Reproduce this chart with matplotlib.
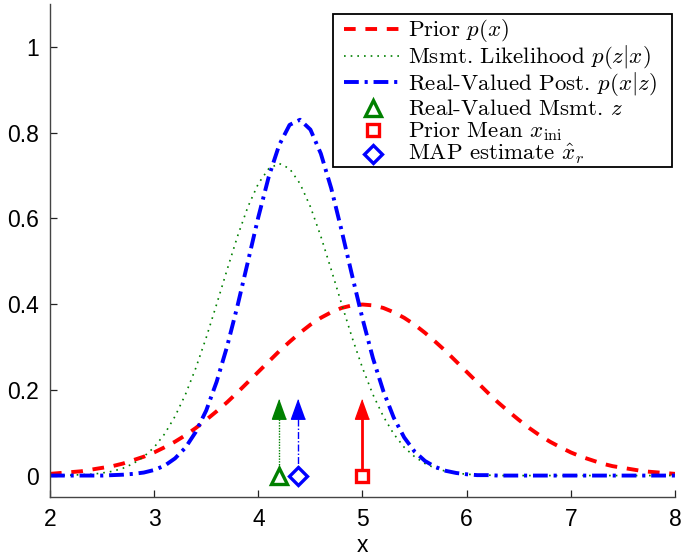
import numpy as np
import matplotlib
matplotlib.use("Agg")
import matplotlib.pyplot as plt
from matplotlib.lines import Line2D
from matplotlib.patches import Rectangle

# ---- data ----
x_grid = [round(2.0 + 0.1 * i, 1) for i in range(61)]

prior_vals = [0.004, 0.006, 0.008, 0.010, 0.014, 0.018, 0.022, 0.028, 0.036, 0.044,
              0.054, 0.066, 0.079, 0.094, 0.111, 0.130, 0.150, 0.171, 0.194, 0.218,
              0.242, 0.266, 0.290, 0.312, 0.333, 0.352, 0.368, 0.381, 0.391, 0.397,
              0.399,
              0.397, 0.391, 0.381, 0.368, 0.352, 0.333, 0.312, 0.290, 0.266, 0.242,
              0.218, 0.194, 0.171, 0.150, 0.130, 0.111, 0.094, 0.079, 0.066, 0.054,
              0.044, 0.036, 0.028, 0.022, 0.018, 0.014, 0.010, 0.008, 0.006, 0.004]

likelihood_vals = [0.000, 0.000, 0.001, 0.002, 0.003, 0.006, 0.010, 0.017, 0.028, 0.044,
                   0.066, 0.097, 0.138, 0.189, 0.251, 0.322, 0.400, 0.480, 0.558, 0.627,
                   0.681, 0.716, 0.728, 0.716, 0.681, 0.627, 0.558, 0.480, 0.400, 0.322,
                   0.251, 0.189, 0.138, 0.097, 0.066, 0.044, 0.028, 0.017, 0.010, 0.006,
                   0.003, 0.002, 0.001, 0.000, 0.000, 0.000, 0.000, 0.000, 0.000, 0.000,
                   0.000, 0.000, 0.000, 0.000, 0.000, 0.000, 0.000, 0.000, 0.000, 0.000,
                   0.000]

posterior_vals = [0.000, 0.000, 0.000, 0.000, 0.000, 0.000, 0.001, 0.002, 0.004, 0.007,
                  0.013, 0.023, 0.040, 0.065, 0.102, 0.152, 0.219, 0.301, 0.396, 0.499,
                  0.603, 0.697, 0.771, 0.818, 0.830, 0.807, 0.751, 0.670, 0.571, 0.467,
                  0.366, 0.274, 0.197, 0.135, 0.089, 0.056, 0.034, 0.020, 0.011, 0.006,
                  0.003, 0.001, 0.001, 0.000, 0.000, 0.000, 0.000, 0.000, 0.000, 0.000,
                  0.000, 0.000, 0.000, 0.000, 0.000, 0.000, 0.000, 0.000, 0.000, 0.000,
                  0.000]

z_meas = 4.2          # real-valued measurement
x_ini = 5.0           # prior mean
x_map = 4.38          # MAP estimate
arrow_height = 0.155

labels = [r"Prior $p(x)$",
          r"Msmt. Likelihood $p(z|x)$",
          r"Real-Valued Post. $p(x|z)$",
          r"Real-Valued Msmt. $z$",
          r"Prior Mean $x_{\mathrm{ini}}$",
          r"MAP estimate $\hat{x}_r$"]

xticks = [2, 3, 4, 5, 6, 7, 8]
yticks = [0, 0.2, 0.4, 0.6, 0.8, 1]
ytick_labels = ["0", "0.2", "0.4", "0.6", "0.8", "1"]

# ---- style ----
plt.rcParams["mathtext.fontset"] = "cm"
RED = (1, 0, 0)
GREEN = (0, 0.5, 0)
BLUE = (0, 0, 1)
W, H = 682, 557

fig = plt.figure(figsize=(6.82, 5.57), dpi=100)
ax = fig.add_axes([50 / W, 1 - 497 / H, 625 / W, 493 / H])

prior_style = dict(color=RED, lw=2.8, ls=(0, (3.0, 2.5)))
lik_style = dict(color=GREEN, lw=1.2, ls=(0, (1, 3)))
post_style = dict(color=BLUE, lw=2.8, ls=(0, (3.8, 1.5, 0.8, 1.5)))
z_style = dict(marker="^", ms=11.5, mec=GREEN, mfc="white", mew=2.4, ls="none")
ini_style = dict(marker="s", ms=8.5, mec=RED, mfc="white", mew=2.4, ls="none")
map_style = dict(marker="D", ms=9, mec=BLUE, mfc="white", mew=2.4, ls="none")

ax.plot(x_grid, prior_vals, **prior_style)
ax.plot(x_grid, likelihood_vals, **lik_style)
ax.plot(x_grid, posterior_vals, **post_style)

# arrows
ax.plot([z_meas, z_meas], [0, arrow_height], color=GREEN, lw=1.0, ls=(0, (1, 1)))
ax.plot([x_map, x_map], [0, arrow_height], color=BLUE, lw=1.0, ls=(0, (5, 1.5, 1, 1.5)))
ax.plot([x_ini, x_ini], [0, arrow_height], color=RED, lw=2.0, ls="-")
tri = [(0, 1), (-0.72, -1), (0.72, -1)]
for xv, c in [(z_meas, GREEN), (x_map, BLUE), (x_ini, RED)]:
    ax.plot([xv], [arrow_height], marker=tri, ms=14, color=c, mec=c, mfc=c, ls="none")

# hollow markers at the base
ax.plot([z_meas], [0], **z_style)
ax.plot([x_ini], [0], **ini_style)
ax.plot([x_map], [0], **map_style)

ax.set_xlim(2, 8)
ax.set_ylim(-0.05, 1.1)
ax.set_xticks(xticks)
ax.set_xticklabels([str(t) for t in xticks])
ax.set_yticks(yticks)
ax.set_yticklabels(ytick_labels)

for s in ["top", "right"]:
    ax.spines[s].set_visible(False)
for s in ["left", "bottom"]:
    ax.spines[s].set_color("#444444")
    ax.spines[s].set_linewidth(1.0)

ax.tick_params(direction="in", length=5, width=0.9, color="#222222",
               labelsize=16.5, pad=8)
for lab in ax.get_xticklabels() + ax.get_yticklabels():
    lab.set_family("Liberation Sans")
ax.set_xlabel("x", fontsize=16.5, family="Liberation Sans", labelpad=2)

# ---- legend (MATLAB-style box, laid out in figure pixels) ----
def fx(px):
    return px / W

def fy(py):
    return 1 - py / H

box = Rectangle((fx(333), fy(167)), fx(672) - fx(333), fy(14) - fy(167),
                transform=fig.transFigure, facecolor="white", edgecolor="black",
                lw=1.3, zorder=5)
fig.add_artist(box)

handle_y = [28.7, 55.5, 82.5, 108.0, 130.0, 154.0]
text_y = [35.5, 62.7, 90.0, 115.4, 137.5, 159.7]
styles = [prior_style, lik_style, post_style, z_style, ini_style, map_style]
for i, (lab, st) in enumerate(zip(labels, styles)):
    if st.get("ls") == "none":
        fig.add_artist(Line2D([fx(372.5)], [fy(handle_y[i])], transform=fig.transFigure,
                              zorder=6, **st))
    else:
        fig.add_artist(Line2D([fx(344), fx(401)], [fy(handle_y[i])] * 2,
                              transform=fig.transFigure, zorder=6, **st))
    fig.text(fx(408), fy(text_y[i]), lab, family="cmr10", fontsize=16.5,
             ha="left", va="baseline", zorder=6)

fig.savefig("out.png", dpi=100)
